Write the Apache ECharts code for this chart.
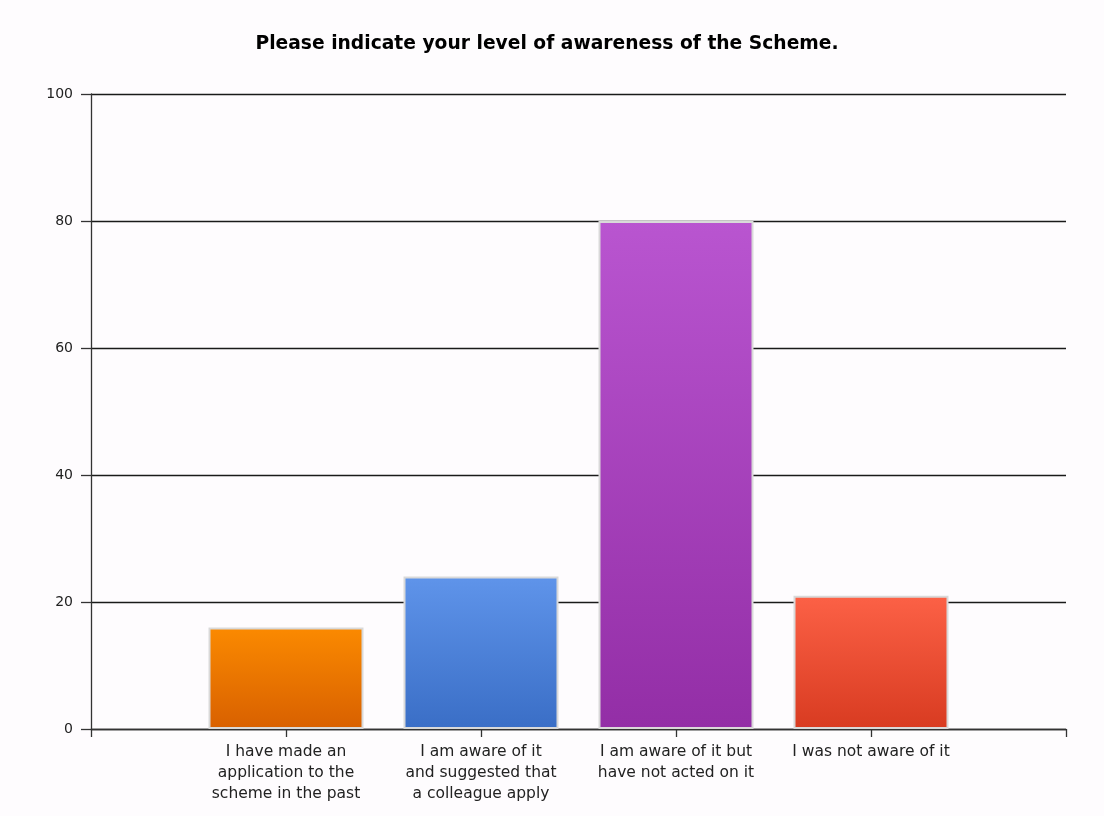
<!DOCTYPE html>
<html>
<head>
<meta charset="utf-8">
<script src="https://cdn.jsdelivr.net/npm/echarts@6/dist/echarts.min.js"></script>
<style>
html,body{margin:0;padding:0;background:#fefcfe;}
#chart{width:1104px;height:816px;}
</style>
</head>
<body>
<div id="chart"></div>
<script>
var title = 'Please indicate your level of awareness of the Scheme.';
var categories = [
  'I have made an\napplication to the\nscheme in the past',
  'I am aware of it\nand suggested that\na colleague apply',
  'I am aware of it but\nhave not acted on it',
  'I was not aware of it'
];
var positions = [1, 2, 3, 4];
var values = [16, 24, 80, 21];
var yTicks = [0, 20, 40, 60, 80, 100];
var topColors = ['#fb8a00', '#5f94ea', '#b955d0', '#fc6146'];
var bottomColors = ['#d86000', '#3a6ec6', '#932ea6', '#d83b21'];

var chart = echarts.init(document.getElementById('chart'));
var data = values.map(function (v, i) {
  return {
    value: [positions[i], v],
    itemStyle: {
      color: new echarts.graphic.LinearGradient(0, 0, 0, 1, [
        { offset: 0, color: topColors[i] },
        { offset: 1, color: bottomColors[i] }
      ]),
      borderColor: '#d9d9d9',
      borderWidth: 2
    }
  };
});
chart.setOption({
  backgroundColor: '#fefcfe',
  animation: false,
  title: {
    text: title,
    left: 542,
    top: 30,
    textAlign: 'center',
    textStyle: { fontFamily: 'DejaVu Sans', fontWeight: 'bold', fontSize: 18.7, color: '#000' }
  },
  grid: { left: 91, right: 38, top: 94, bottom: 87 },
  xAxis: {
    type: 'value',
    min: 0, max: 5, interval: 1,
    axisLine: { show: true, onZero: false, lineStyle: { color: '#333', width: 1.3 } },
    axisTick: { show: true, length: 8, lineStyle: { color: '#333', width: 1.3 } },
    splitLine: { show: false },
    axisLabel: {
      margin: 12,
      fontFamily: 'DejaVu Sans', fontSize: 15.5, color: '#222', lineHeight: 21,
      formatter: function (v) {
        var idx = positions.indexOf(v);
        return idx >= 0 ? categories[idx] : '';
      }
    }
  },
  yAxis: {
    type: 'value',
    min: yTicks[0], max: yTicks[yTicks.length - 1], interval: 20,
    axisLine: { show: true, lineStyle: { color: '#333', width: 1.3 } },
    axisTick: { show: true, length: 10, lineStyle: { color: '#333', width: 1.3 } },
    splitLine: { show: true, lineStyle: { color: '#1a1a1a', width: 1.4 } },
    axisLabel: { margin: 18, fontFamily: 'DejaVu Sans', fontSize: 14, color: '#222' }
  },
  series: [{
    type: 'bar',
    barWidth: 155,
    data: data
  }]
});
</script>
</body>
</html>
